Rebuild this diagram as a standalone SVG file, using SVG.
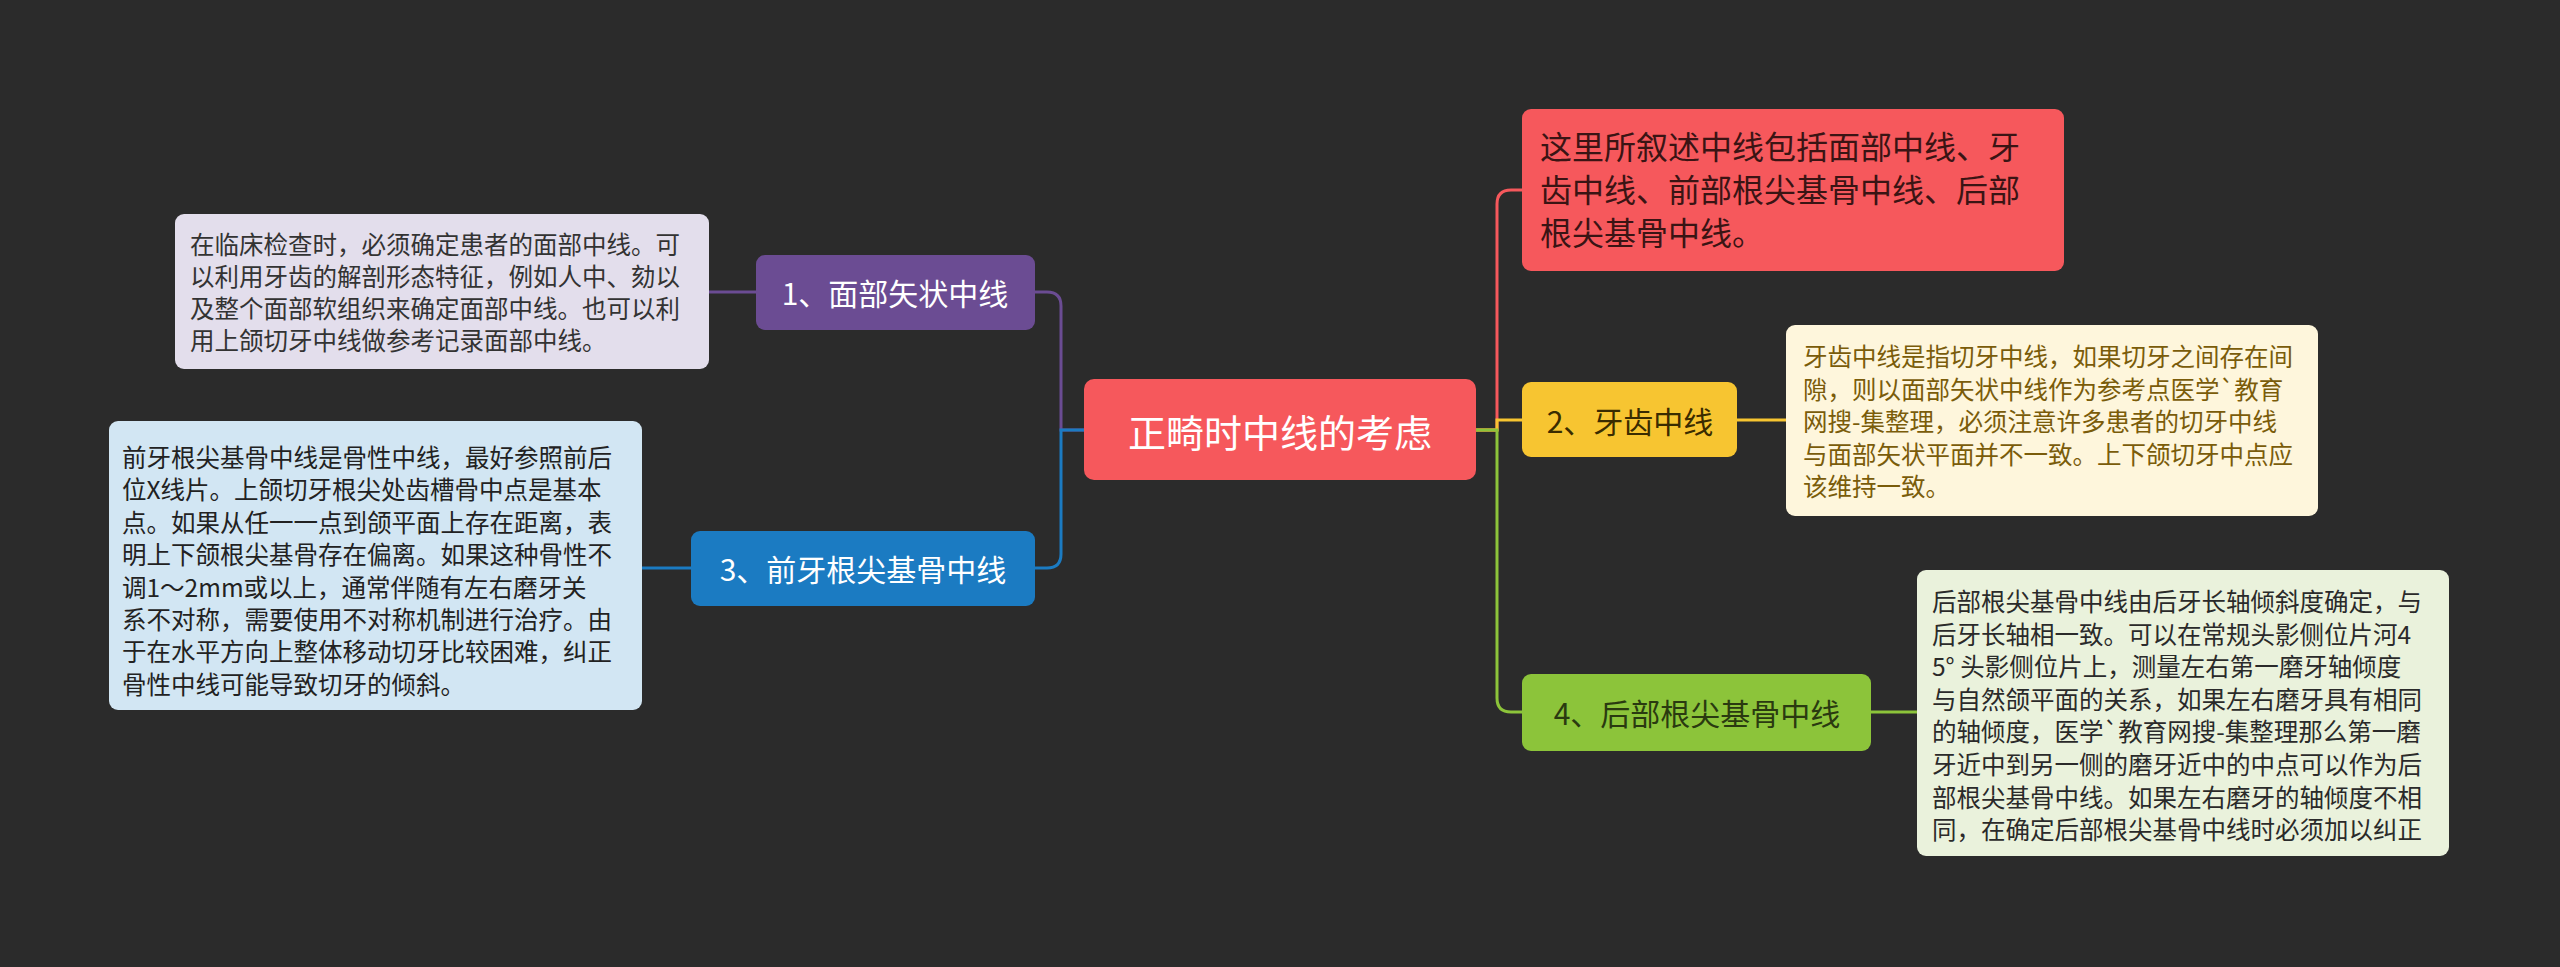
<svg xmlns="http://www.w3.org/2000/svg" width="2560" height="967" viewBox="0 0 2560 967">
<style>
text{font-family:"Noto Sans CJK SC","Noto Sans",sans-serif}
.leaf{font-size:24.5px}
.br{font-size:30px;text-anchor:middle;dominant-baseline:central}
.c{fill:none;stroke-width:3}
</style>
<rect width="2560" height="967" fill="#2b2b2b"/>
<g id="connectors">
<path class="c" stroke="#6B4C93" d="M1084 430 H1061 V306 Q1061 292 1047 292 H1035"/>
<path class="c" stroke="#1B7BC2" d="M1084 430 H1061 V554 Q1061 568 1047 568 H1035"/>
<path class="c" stroke="#F6585C" d="M1476 430 H1497 V204 Q1497 190 1511 190 H1522"/>
<path class="c" stroke="#F7C531" d="M1476 430 H1497 V420 H1522"/>
<path class="c" stroke="#8CC43A" d="M1476 430 H1497 V698 Q1497 712 1511 712 H1522"/>
<path class="c" stroke="#6B4C93" d="M756 292 H709"/>
<path class="c" stroke="#1B7BC2" d="M691 568 H642"/>
<path class="c" stroke="#F7C531" d="M1737 420 H1786"/>
<path class="c" stroke="#8CC43A" d="M1871 712 H1917"/>
</g>
<g id="center"><rect x="1084" y="379" width="392" height="101" rx="10" fill="#F6585C"/>
<text x="1280" y="430" font-size="38" fill="#fff" text-anchor="middle" dominant-baseline="central">正畸时中线的考虑</text></g>
<g id="n1"><rect x="756" y="255" width="279" height="75" rx="9" fill="#6B4C93"/>
<text class="br" x="895" y="292" fill="#fff">1、面部矢状中线</text></g>
<g id="n3"><rect x="691" y="531" width="344" height="75" rx="9" fill="#1B7BC2"/>
<text class="br" x="863" y="568" fill="#fff">3、前牙根尖基骨中线</text></g>
<g id="n2"><rect x="1522" y="382" width="215" height="75" rx="9" fill="#F7C531"/>
<text class="br" x="1630" y="420" fill="#3a2c00">2、牙齿中线</text></g>
<g id="n4"><rect x="1522" y="674" width="349" height="77" rx="9" fill="#8CC43A"/>
<text class="br" x="1697" y="712" fill="#2a3a10">4、后部根尖基骨中线</text></g>
<g id="red"><rect x="1522" y="109" width="542" height="162" rx="9" fill="#F6585C"/>
<text x="1540" y="159" font-size="32" fill="#3a1414"><tspan x="1540">这里所叙述中线包括面部中线、牙</tspan><tspan x="1540" dy="43">齿中线、前部根尖基骨中线、后部</tspan><tspan x="1540" dy="43">根尖基骨中线。</tspan></text></g>
<g id="leaf1"><rect x="175" y="214" width="534" height="155" rx="9" fill="#E3DEEC"/>
<text class="leaf" x="190" y="254" fill="#333"><tspan x="190">在临床检查时，必须确定患者的面部中线。可</tspan><tspan x="190" dy="32">以利用牙齿的解剖形态特征，例如人中、劾以</tspan><tspan x="190" dy="32">及整个面部软组织来确定面部中线。也可以利</tspan><tspan x="190" dy="32">用上颌切牙中线做参考记录面部中线。</tspan></text></g>
<g id="leaf3"><rect x="109" y="421" width="533" height="289" rx="9" fill="#D2E6F3"/>
<text class="leaf" x="122" y="467" fill="#222"><tspan x="122">前牙根尖基骨中线是骨性中线，最好参照前后</tspan><tspan x="122" dy="32.4">位X线片。上颌切牙根尖处齿槽骨中点是基本</tspan><tspan x="122" dy="32.4">点。如果从任一一点到颌平面上存在距离，表</tspan><tspan x="122" dy="32.4">明上下颌根尖基骨存在偏离。如果这种骨性不</tspan><tspan x="122" dy="32.4">调1～2mm或以上，通常伴随有左右磨牙关</tspan><tspan x="122" dy="32.4">系不对称，需要使用不对称机制进行治疗。由</tspan><tspan x="122" dy="32.4">于在水平方向上整体移动切牙比较困难，纠正</tspan><tspan x="122" dy="32.4">骨性中线可能导致切牙的倾斜。</tspan></text></g>
<g id="leaf2"><rect x="1786" y="325" width="532" height="191" rx="9" fill="#FEF6DC"/>
<text class="leaf" x="1803" y="366" fill="#7A5C0A"><tspan x="1803">牙齿中线是指切牙中线，如果切牙之间存在间</tspan><tspan x="1803" dy="32.5">隙，则以面部矢状中线作为参考点医学`教育</tspan><tspan x="1803" dy="32.5">网搜-集整理，必须注意许多患者的切牙中线</tspan><tspan x="1803" dy="32.5">与面部矢状平面并不一致。上下颌切牙中点应</tspan><tspan x="1803" dy="32.5">该维持一致。</tspan></text></g>
<g id="leaf4"><rect x="1917" y="570" width="532" height="286" rx="9" fill="#EAF2DC"/>
<text class="leaf" x="1932" y="611" fill="#2a2a2a"><tspan x="1932">后部根尖基骨中线由后牙长轴倾斜度确定，与</tspan><tspan x="1932" dy="32.6">后牙长轴相一致。可以在常规头影侧位片河4</tspan><tspan x="1932" dy="32.6">5° 头影侧位片上，测量左右第一磨牙轴倾度</tspan><tspan x="1932" dy="32.6">与自然颌平面的关系，如果左右磨牙具有相同</tspan><tspan x="1932" dy="32.6">的轴倾度，医学`教育网搜-集整理那么第一磨</tspan><tspan x="1932" dy="32.6">牙近中到另一侧的磨牙近中的中点可以作为后</tspan><tspan x="1932" dy="32.6">部根尖基骨中线。如果左右磨牙的轴倾度不相</tspan><tspan x="1932" dy="32.6">同，在确定后部根尖基骨中线时必须加以纠正</tspan></text></g>
</svg>
